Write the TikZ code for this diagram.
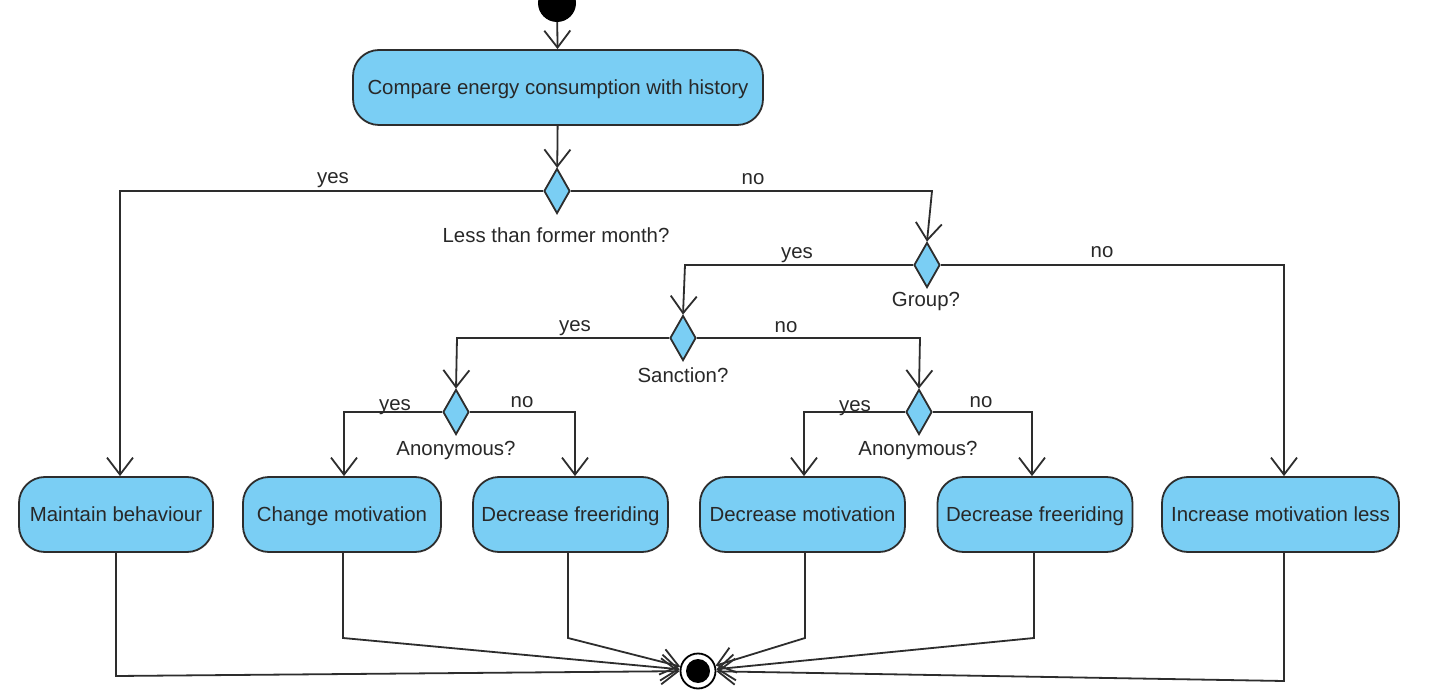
\documentclass[tikz,border=0pt]{standalone}
\usepackage{fontspec}
\setmainfont{Liberation Sans}
\usetikzlibrary{shapes.geometric,arrows.meta}
\definecolor{actfill}{RGB}{122,206,244}
\definecolor{edgecol}{RGB}{45,45,45}
\definecolor{txtcol}{RGB}{40,40,40}
\tikzset{
  actbox/.style={draw=edgecol, line width=1.8, fill=actfill, rounded corners=26,
    minimum height=75, inner sep=0, text=txtcol, text height=16.5, text depth=2.5,
    font=\fontsize{20.4}{24}\selectfont},
  decis/.style={draw=edgecol, line width=1.8, fill=actfill, shape=diamond,
    inner sep=0, minimum width=26, minimum height=45},
  lbl/.style={text=txtcol, font=\fontsize{20.4}{24}\selectfont, inner sep=0,
    text height=16.5, text depth=2.5},
  flow/.style={draw=edgecol, line width=1.8,
    -{Straight Barb[length=17, width=26, line width=1.8]}},
}
\begin{document}
\begin{tikzpicture}[x=1pt,y=-1pt]
\useasboundingbox (0,0) rectangle (1440,700);
\clip (0,0) rectangle (1440,700);
\fill[white] (0,0) rectangle (1440,700);

% start and end
\node[circle, fill=black, minimum size=38, inner sep=0] (start) at (557,3) {};
\node[circle, draw=black, fill=white, line width=1.8, minimum size=35, inner sep=0] (final) at (698,671) {};
\fill[black] (final.center) circle (12);

% actions
\node[actbox, minimum width=410] (compare) at (558,87.5) {Compare energy consumption with history};
\node[actbox, minimum width=194] (maint) at (116,514.5) {Maintain behaviour};
\node[actbox, minimum width=198] (change) at (342,514.5) {Change motivation};
\node[actbox, minimum width=195] (free1) at (570.5,514.5) {Decrease freeriding};
\node[actbox, minimum width=205] (dmot) at (802.5,514.5) {Decrease motivation};
\node[actbox, minimum width=195] (free2) at (1035,514.5) {Decrease freeriding};
\node[actbox, minimum width=237] (incr) at (1280.5,514.5) {Increase motivation less};

% decisions
\node[decis] (d1) at (557,191) {};
\node[decis] (group) at (927,265) {};
\node[decis] (sanc) at (683,338) {};
\node[decis] (anon1) at (456,412) {};
\node[decis] (anon2) at (919,412) {};

% decision labels
\node[lbl] (l1) at (556,236) {Less than former month?};
\node[lbl] (lg) at (926,300) {Group?};
\node[lbl] (ls) at (683,375) {Sanction?};
\node[lbl] (la1) at (456,448) {Anonymous?};
\node[lbl] (la2) at (918,448) {Anonymous?};

% corner coordinates
\coordinate (c1y) at (120,191);
\coordinate (c1n) at (932,191);
\coordinate (cgy) at (685,265);
\coordinate (cgn) at (1284,265);
\coordinate (csy) at (457,338);
\coordinate (csn) at (920,338);
\coordinate (ca1y) at (344,412);
\coordinate (ca1n) at (575,412);
\coordinate (ca2y) at (804,412);
\coordinate (ca2n) at (1032,412);

% flows
\draw[flow] (start) -- (compare);
\draw[flow] (compare) -- (d1);
\draw[flow] (d1.west) -- (c1y) -- (c1y |- maint.north);
\draw[flow] (d1.east) -- (c1n) -- (group.north);
\draw[flow] (group.west) -- (cgy) -- (sanc.north);
\draw[flow] (group.east) -- (cgn) -- (cgn |- incr.north);
\draw[flow] (sanc.west) -- (csy) -- (anon1.north);
\draw[flow] (sanc.east) -- (csn) -- (anon2.north);
\draw[flow] (anon1.west) -- (ca1y) -- (ca1y |- change.north);
\draw[flow] (anon1.east) -- (ca1n) -- (ca1n |- free1.north);
\draw[flow] (anon2.west) -- (ca2y) -- (ca2y |- dmot.north);
\draw[flow] (anon2.east) -- (ca2n) -- (ca2n |- free2.north);

% branch labels
\node[lbl] at (333,177) {yes};
\node[lbl] at (753,178) {no};
\node[lbl] at (797,252) {yes};
\node[lbl] at (1102,251) {no};
\node[lbl] at (575,325) {yes};
\node[lbl] at (786,326) {no};
\node[lbl] at (395,403) {yes};
\node[lbl] at (522,400) {no};
\node[lbl] at (855,404) {yes};
\node[lbl] at (981,400) {no};

% merge to final
\coordinate (bm) at (116,676);
\coordinate (bc) at (343,638);
\coordinate (bf1) at (568,638);
\coordinate (bd) at (805,638);
\coordinate (bf2) at (1034,638);
\coordinate (bi) at (1284,681);
\draw[flow] (bm |- maint.south) -- (bm) -- (final);
\draw[flow] (bc |- change.south) -- (bc) -- (final);
\draw[flow] (bf1 |- free1.south) -- (bf1) -- (final);
\draw[flow] (bd |- dmot.south) -- (bd) -- (final);
\draw[flow] (bf2 |- free2.south) -- (bf2) -- (final);
\draw[flow] (bi |- incr.south) -- (bi) -- (final);
\end{tikzpicture}
\end{document}
